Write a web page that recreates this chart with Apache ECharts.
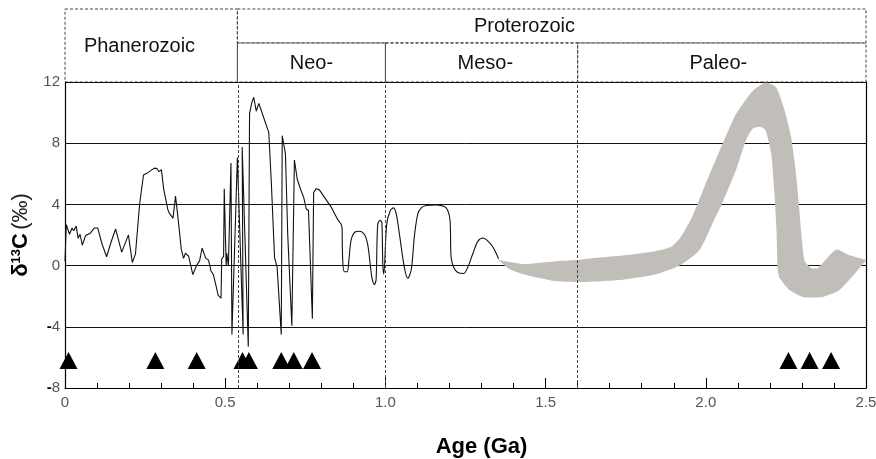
<!DOCTYPE html>
<html>
<head>
<meta charset="utf-8">
<script src="https://cdn.jsdelivr.net/npm/echarts@6/dist/echarts.min.js"></script>
<style>
  html, body { margin: 0; padding: 0; background: #fff; }
  #chart { width: 876px; height: 459px; }
</style>
</head>
<body>
<div id="chart"></div>
<script>
  // δ13C record, age in Ga, values in per mil
  const phanNeoLine = [
    [0.000, 0.30], [0.004, 2.68], [0.014, 2.05], [0.022, 2.46], [0.027, 2.28], [0.035, 2.58],
    [0.041, 1.78], [0.047, 2.05], [0.054, 1.33], [0.064, 1.96], [0.079, 2.12], [0.092, 2.46],
    [0.102, 2.46], [0.116, 1.38], [0.130, 0.58], [0.144, 1.56], [0.158, 2.39], [0.177, 0.88],
    [0.198, 2.01], [0.210, 0.20], [0.220, 0.77], [0.233, 4.04], [0.245, 5.92], [0.255, 6.03],
    [0.279, 6.37], [0.287, 6.35], [0.293, 6.14], [0.301, 6.26], [0.308, 5.00], [0.313, 4.88],
    [0.321, 3.66], [0.326, 3.41], [0.337, 3.10], [0.345, 4.54], [0.352, 3.25], [0.363, 1.06],
    [0.370, 0.47], [0.376, 0.81], [0.386, 0.61], [0.399, -0.59], [0.411, 0.02], [0.420, 0.31],
    [0.428, 1.15], [0.439, 0.49], [0.448, 0.36], [0.456, -0.37], [0.463, -0.59], [0.472, -1.38],
    [0.478, -1.95], [0.487, -2.13], [0.489, 0.43], [0.495, 0.60], [0.497, 5.03], [0.503, 0.00],
    [0.505, 0.80], [0.510, 0.00], [0.518, 6.70], [0.521, -4.50], [0.538, 7.07], [0.556, -4.50],
    [0.553, 7.75], [0.572, -5.30], [0.576, 9.94], [0.583, 10.65], [0.589, 11.00], [0.597, 10.10],
    [0.605, 10.60], [0.620, 9.68], [0.636, 8.71], [0.644, 5.42], [0.654, 0.54], [0.662, -0.10],
    [0.675, -4.51], [0.678, 8.49], [0.688, 7.31], [0.695, 2.12], [0.708, -3.93], [0.716, 6.90],
    [0.719, 7.00], [0.725, 5.63], [0.737, 4.89], [0.745, 4.46], [0.753, 3.70], [0.760, 3.60],
    [0.772, -3.48], [0.776, 4.78], [0.784, 5.03], [0.794, 4.95], [0.810, 4.46], [0.831, 3.82],
    [0.851, 3.02], [0.862, 2.70], [0.865, 2.47]
  ];
  const mesoLine = [
    [0.865, 2.47], [0.867, 0.23], [0.872, -0.40], [0.881, -0.40], [0.886, 0.34], [0.893, 1.68],
    [0.904, 2.18], [0.919, 2.25], [0.935, 2.02], [0.945, 1.35], [0.953, 0.00], [0.959, -0.90],
    [0.966, -1.23], [0.971, -0.90], [0.976, 2.69], [0.984, 2.96], [0.989, 2.81], [0.992, 0.00],
    [0.995, -0.56], [1.004, 2.69], [1.015, 3.59], [1.025, 3.77], [1.034, 3.37], [1.044, 2.02],
    [1.060, -0.22], [1.070, -0.83], [1.081, -0.22], [1.091, 2.02], [1.101, 3.37], [1.112, 3.77],
    [1.127, 3.93], [1.159, 3.97], [1.184, 3.86], [1.195, 3.59], [1.202, 2.92], [1.205, 0.57],
    [1.213, -0.11], [1.226, -0.45], [1.244, -0.52], [1.257, -0.11], [1.273, 0.79], [1.288, 1.57],
    [1.304, 1.80], [1.316, 1.68], [1.335, 1.23], [1.346, 0.79], [1.353, 0.45]
  ];
  // Paleoproterozoic envelope (grey band)
  const bandUpper = [
    [1.351, 0.38], [1.429, 0.11], [1.533, 0.29], [1.606, 0.38], [1.658, 0.51], [1.762, 0.71],
    [1.845, 0.96], [1.892, 1.23], [1.923, 1.91], [1.959, 3.26], [2.001, 5.43], [2.053, 8.00],
    [2.095, 9.92], [2.147, 11.42], [2.188, 11.96], [2.220, 11.63], [2.246, 10.14], [2.266, 8.43],
    [2.280, 6.28], [2.290, 4.15], [2.298, 2.13], [2.308, 0.34], [2.329, -0.16], [2.350, -0.16],
    [2.407, 1.05], [2.449, 0.67], [2.500, 0.36]
  ];
  const bandLower = [
    [1.351, 0.38], [1.387, -0.23], [1.429, -0.57], [1.533, -1.03], [1.606, -1.08], [1.741, -0.92],
    [1.845, -0.57], [1.918, 0.00], [1.980, 1.01], [2.017, 2.58], [2.053, 4.15], [2.095, 6.29],
    [2.126, 8.22], [2.147, 8.96], [2.170, 9.07], [2.186, 8.86], [2.204, 7.36], [2.214, 4.81],
    [2.220, 2.58], [2.225, -0.34], [2.230, -0.80], [2.261, -1.60], [2.303, -2.05], [2.365, -2.05],
    [2.417, -1.60], [2.500, 0.34]
  ];
  // glaciation markers
  const triangles = [
    [0.011, -6.2], [0.282, -6.2], [0.411, -6.2], [0.554, -6.2], [0.574, -6.2], [0.675, -6.2],
    [0.714, -6.2], [0.771, -6.2], [2.258, -6.2], [2.324, -6.2], [2.391, -6.2]
  ];
  // eon / era boundaries: [start, end, row, name]  row 0 = full height, 1 = upper, 2 = lower
  const eraCells = [
    [0, 0.538, 0, 'Phanerozoic'],
    [0.538, 2.5, 1, 'Proterozoic'],
    [0.538, 1.0, 2, 'Neo-'],
    [1.0, 1.6, 2, 'Meso-'],
    [1.6, 2.5, 2, 'Paleo-']
  ];
  const boundaries = [0.538, 1.0, 1.6];

  // where each header name sits (age), the figure does not centre them exactly
  const labelAge = { 'Phanerozoic': 0.2325, 'Proterozoic': 1.434, 'Neo-': 0.769, 'Meso-': 1.312, 'Paleo-': 2.039 };
  const rowSpan = { 0: [0, 2], 1: [1.07, 2], 2: [0, 1.07] };

  const chart = echarts.init(document.getElementById('chart'));
  const font = '"Liberation Sans", Arial, sans-serif';
  const dash = [3, 2];

  const option = {
    animation: false,
    grid: [
      { left: 65, right: 10, top: 82, bottom: 71, outerBoundsMode: 'none' },
      { left: 65, right: 10, top: 9, height: 73, outerBoundsMode: 'none' }
    ],
    xAxis: [
      {
        type: 'value',
        gridIndex: 0,
        min: 0,
        max: 2.5,
        interval: 0.5,
        name: 'Age (Ga)',
        nameLocation: 'middle',
        nameGap: 48,
        nameTextStyle: { fontSize: 22, fontWeight: 'bold', color: '#000', fontFamily: font, padding: [0, 0, 0, 32] },
        axisLine: { onZero: false, lineStyle: { color: '#000', width: 1.2 } },
        axisTick: { inside: true, length: 10, lineStyle: { color: '#000' } },
        minorTick: { show: true, splitNumber: 5, length: 5, lineStyle: { color: '#000' } },
        axisLabel: {
          margin: 7,
          fontSize: 15,
          color: '#555',
          fontFamily: font,
          formatter: (v) => (v === 0 ? '0' : v.toFixed(1))
        },
        splitLine: { show: false }
      },
      { type: 'value', gridIndex: 1, min: 0, max: 2.5, show: false }
    ],
    yAxis: [
      {
        type: 'value',
        gridIndex: 0,
        min: -8,
        max: 12,
        interval: 4,
        name: '{b|δ}{sup|13}{b|C} {n|(‰)}',
        nameLocation: 'middle',
        nameGap: 30,
        nameTextStyle: {
          color: '#000',
          rich: {
            b: { fontSize: 22, fontWeight: 'bold', fontFamily: font, color: '#000' },
            sup: { fontSize: 13, fontWeight: 'bold', fontFamily: font, color: '#000', verticalAlign: 'top', padding: [0, 0, 6, 0] },
            n: { fontSize: 22, fontFamily: font, color: '#222' }
          }
        },
        axisLine: { show: true, onZero: false, lineStyle: { color: '#000', width: 1.2 } },
        axisTick: { show: false },
        axisLabel: {
          margin: 5,
          fontSize: 15,
          color: '#555',
          fontFamily: font,
          formatter: (v) => (v < 0 ? '{m|-}' + (-v) : String(v)),
          rich: { m: { fontSize: 15, fontWeight: 'bold', color: '#000', fontFamily: font } }
        },
        splitLine: { lineStyle: { color: '#111', width: 1 } }
      },
      {
        type: 'value',
        gridIndex: 0,
        position: 'right',
        min: -8,
        max: 12,
        axisLine: { show: true, onZero: false, lineStyle: { color: '#000', width: 1.2 } },
        axisTick: { show: false },
        axisLabel: { show: false },
        splitLine: { show: false }
      },
      { type: 'value', gridIndex: 1, min: 0, max: 2, show: false }
    ],
    series: [
      {
        // header boxes
        type: 'custom',
        xAxisIndex: 1,
        yAxisIndex: 2,
        z: -1,
        silent: true,
        data: eraCells,
        renderItem: (params, api) => {
          const cell = eraCells[params.dataIndex];
          const rs = rowSpan[cell[2]];
          const p0 = api.coord([cell[0], rs[1]]);
          const p1 = api.coord([cell[1], rs[0]]);
          const t = api.coord([labelAge[cell[3]], (rs[0] + rs[1]) / 2]);
          return {
            type: 'group',
            children: [
              {
                type: 'rect',
                shape: { x: p0[0], y: p0[1], width: p1[0] - p0[0], height: p1[1] - p0[1] },
                style: { fill: null, stroke: '#444', lineWidth: 1, lineDash: dash }
              },
              {
                type: 'text',
                x: t[0],
                y: t[1] + 1,
                style: { text: cell[3], font: '20px ' + font, fill: '#111', align: 'center', verticalAlign: 'middle' }
              }
            ]
          };
        }
      },
      {
        // grey envelope
        type: 'custom',
        xAxisIndex: 0,
        yAxisIndex: 0,
        silent: true,
        z: 2,
        data: [0],
        renderItem: (params, api) => {
          const pts = bandUpper.map((d) => api.coord(d))
            .concat(bandLower.slice().reverse().map((d) => api.coord(d)));
          return {
            type: 'polygon',
            shape: { points: pts, smooth: 0.2 },
            style: { fill: '#c1beba', stroke: null }
          };
        }
      },
      {
        type: 'line',
        data: phanNeoLine,
        symbol: 'none',
        z: 3,
        lineStyle: { color: '#111', width: 1.1 },
        markLine: {
          silent: true,
          symbol: 'none',
          label: { show: false },
          lineStyle: { color: '#444', type: dash, width: 1 },
          data: boundaries.map((b) => ({ xAxis: b }))
        }
      },
      {
        type: 'line',
        data: mesoLine,
        symbol: 'none',
        smooth: 0.3,
        z: 3,
        lineStyle: { color: '#111', width: 1.1 }
      },
      {
        type: 'scatter',
        data: triangles,
        symbol: 'triangle',
        symbolSize: [18, 17],
        z: 4,
        itemStyle: { color: '#000', opacity: 1 }
      }
    ]
  };

  chart.setOption(option);
</script>
</body>
</html>
